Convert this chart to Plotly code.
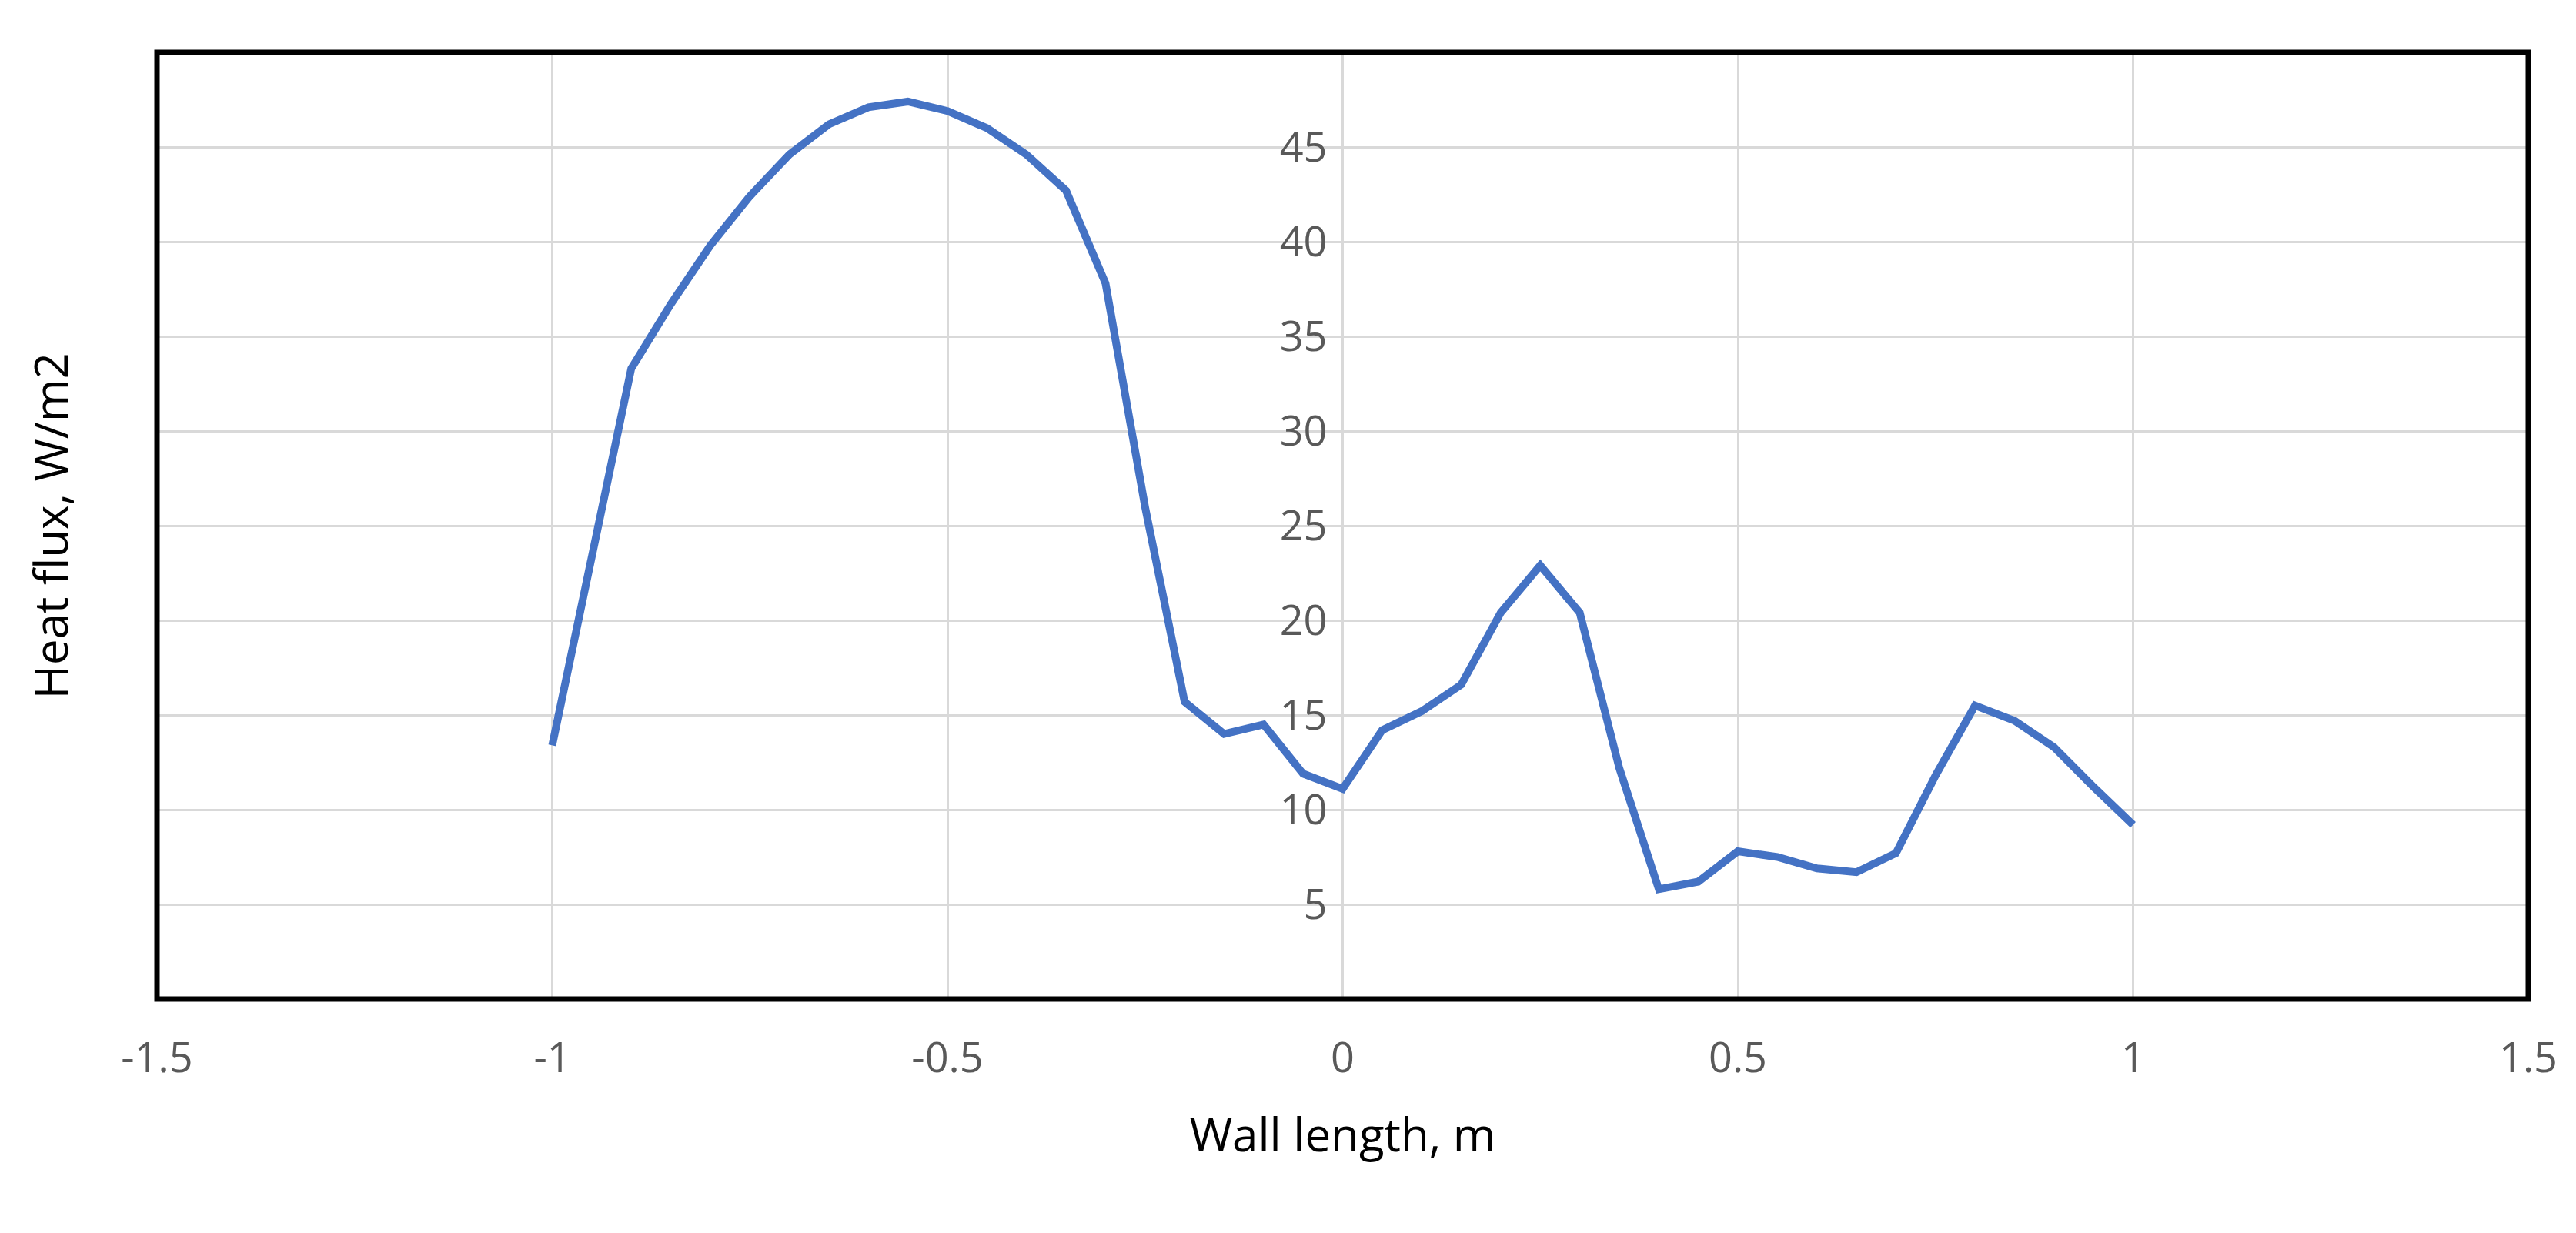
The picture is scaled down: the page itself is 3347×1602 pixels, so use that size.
import plotly.graph_objects as go

wall_length = [-1.0, -0.9, -0.85, -0.8, -0.75, -0.7, -0.65, -0.6, -0.55, -0.5, -0.45, -0.4, -0.35, -0.3,
               -0.25, -0.2, -0.15, -0.1, -0.05, 0.0, 0.05, 0.1, 0.15, 0.2, 0.25, 0.3, 0.35, 0.4, 0.45,
               0.5, 0.55, 0.6, 0.65, 0.7, 0.75, 0.8, 0.85, 0.9, 0.95, 1.0]
heat_flux = [13.4, 33.3, 36.7, 39.8, 42.4, 44.6, 46.2, 47.1, 47.4, 46.9, 46.0, 44.6, 42.7, 37.8,
             26.0, 15.7, 14.0, 14.5, 11.9, 11.1, 14.2, 15.2, 16.6, 20.4, 22.9, 20.4, 12.2, 5.8, 6.2,
             7.8, 7.5, 6.9, 6.7, 7.7, 11.8, 15.5, 14.7, 13.3, 11.2, 9.2]
x_ticks = [-1.5, -1, -0.5, 0, 0.5, 1, 1.5]
y_ticks = [5, 10, 15, 20, 25, 30, 35, 40, 45]

font = "Open Sans"
fig = go.Figure(go.Scatter(x=wall_length, y=heat_flux, mode="lines",
                           line=dict(color="#4472C4", width=10), showlegend=False))
fig.update_layout(
    width=3347, height=1602, paper_bgcolor="white", plot_bgcolor="white",
    margin=dict(l=196, r=70, t=60, b=312),
    xaxis=dict(range=[-1.5, 1.5], tickvals=x_ticks, ticktext=["-1.5", "-1", "-0.5", "0", "0.5", "1", "1.5"],
               showgrid=True, gridcolor="#D9D9D9", gridwidth=3, zeroline=False, showline=False,
               tickfont=dict(family=font, size=54, color="#595959"), ticks="", ticklabelstandoff=40,
               title=dict(text="Wall length, m", font=dict(family=font, size=60, color="#000000"), standoff=45)),
    yaxis=dict(range=[0, 50], tickvals=y_ticks, showgrid=True, gridcolor="#D9D9D9", gridwidth=3,
               zeroline=False, showline=False, anchor="free", position=0.5, ticks="",
               tickfont=dict(family=font, size=54, color="#595959"), ticklabelstandoff=20),
    shapes=[dict(type="rect", xref="paper", yref="paper", x0=0, x1=1, y0=0, y1=1,
                 line=dict(color="black", width=7))],
    annotations=[dict(text="Heat flux, W/m2", xref="paper", yref="paper", x=-0.045, y=0.5,
                      textangle=-90, showarrow=False, xanchor="center", yanchor="middle",
                      font=dict(family=font, size=60, color="#000000"))],
)
fig.write_html("out.html")
